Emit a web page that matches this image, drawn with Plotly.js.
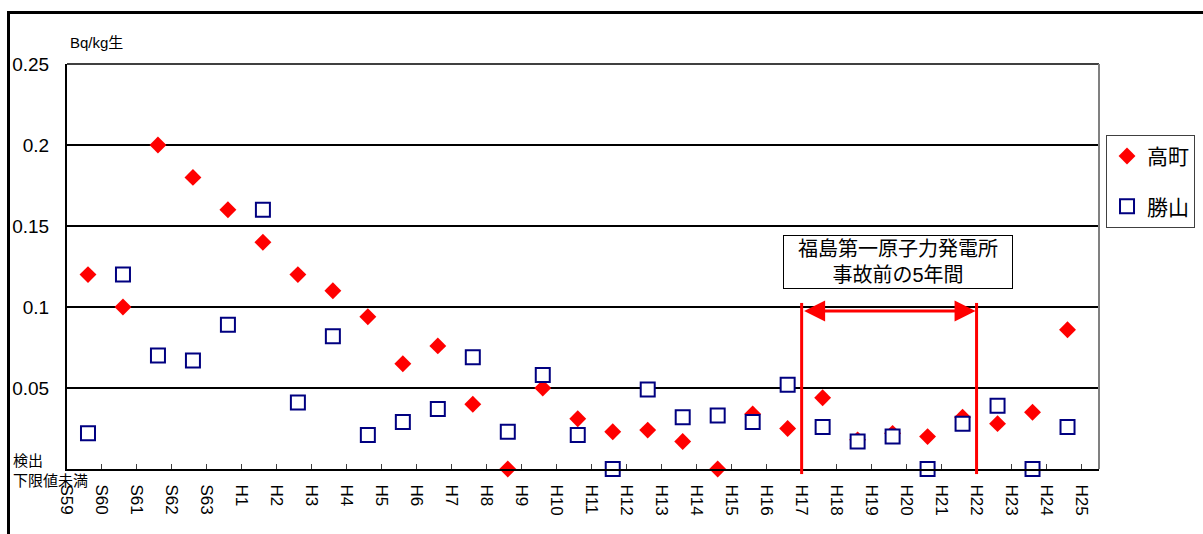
<!DOCTYPE html>
<html>
<head>
<meta charset="utf-8">
<script src="https://cdn.plot.ly/plotly-3.0.1.min.js"></script>
<style>
  html, body { margin: 0; padding: 0; background: #fff; }
  #wrap { position: relative; width: 1203px; height: 534px; overflow: hidden; }
  #chart { position: absolute; left: 0; top: 0; width: 1203px; height: 534px; }
  #frame { position: absolute; left: 7px; top: 11px; width: 1210px; height: 540px;
           border-top: 3px solid #000; border-left: 3px solid #000; pointer-events: none; }
</style>
</head>
<body>
<div id="wrap">
  <div id="chart"></div>
  <div id="frame"></div>
</div>
<script>
// Category (fiscal year) labels
const years = ['S59','S60','S61','S62','S63',
  'H1','H2','H3','H4','H5','H6','H7','H8','H9','H10',
  'H11','H12','H13','H14','H15','H16','H17','H18','H19','H20',
  'H21','H22','H23','H24','H25'];

// 高町 (Bq/kg生), 0 = below detection limit
const takamachi = [0.12, 0.10, 0.20, 0.18, 0.16, 0.14, 0.12, 0.11, 0.094, 0.065,
  0.076, 0.040, 0, 0.050, 0.031, 0.023, 0.024, 0.017, 0, 0.034,
  0.025, 0.044, 0.018, 0.022, 0.020, 0.032, 0.028, 0.035, 0.086, null];

// 勝山 (Bq/kg生), 0 = below detection limit
const katsuyama = [0.022, 0.12, 0.070, 0.067, 0.089, 0.16, 0.041, 0.082, 0.021, 0.029,
  0.037, 0.069, 0.023, 0.058, 0.021, 0, 0.049, 0.032, 0.033, 0.029,
  0.052, 0.026, 0.017, 0.020, 0, 0.028, 0.039, 0, 0.026, null];

const yTickVals = [0.05, 0.1, 0.15, 0.2, 0.25];
const yTickText = ['0.05', '0.1', '0.15', '0.2', '0.25'];

const periodStart = 'H17';
const periodEnd = 'H22';

const latin = 'Liberation Sans, Arial, sans-serif';
const cjk = 'Liberation Sans, Noto Sans CJK JP, sans-serif';

const traces = [
  {
    type: 'scatter', mode: 'markers', name: '高町', legendgroup: 'a',
    x: years, y: takamachi, xaxis: 'x', yaxis: 'y', cliponaxis: false,
    marker: { symbol: 'diamond', size: 13, color: '#ff0000', line: { width: 0 } },
    hoverinfo: 'x+y'
  },
  {
    type: 'scatter', mode: 'markers', name: '勝山', legendgroup: 'b',
    x: years, y: katsuyama, xaxis: 'x', yaxis: 'y', cliponaxis: false,
    marker: { symbol: 'square', size: 14, color: '#ffffff', line: { width: 2, color: '#000080' } },
    hoverinfo: 'x+y'
  }
];

const iStart = years.indexOf(periodStart);
const iEnd = years.indexOf(periodEnd);

const layout = {
  width: 1203, height: 534,
  margin: { l: 67, r: 104, t: 64, b: 65, autoexpand: false },
  paper_bgcolor: '#ffffff', plot_bgcolor: '#ffffff',
  showlegend: true,
  font: { family: latin, color: '#000' },
  xaxis: {
    type: 'category', categoryorder: 'array', categoryarray: years,
    range: [-0.6, 28.9],
    showticklabels: false, ticks: '', showgrid: false, zeroline: false, showline: false,
    fixedrange: true
  },
  xaxis2: {
    type: 'linear', overlaying: 'x', anchor: 'y', side: 'bottom',
    range: [0, 29.5],
    tickmode: 'array', tickvals: years.map((_, i) => i), ticktext: years,
    tickangle: 90, ticks: 'inside', ticklen: 5, tickwidth: 1, tickcolor: '#404040',
    tickfont: { family: latin, size: 17, color: '#000' },
    ticklabelstandoff: 10,
    showgrid: false, zeroline: false,
    showline: true, linecolor: '#000', linewidth: 2,
    fixedrange: true
  },
  yaxis: {
    range: [0, 0.25],
    tickmode: 'array', tickvals: yTickVals, ticktext: yTickText,
    tickfont: { family: latin, size: 19, color: '#000' },
    ticks: '', ticklabelstandoff: 12,
    showgrid: true, gridcolor: '#000', gridwidth: 1.5,
    zeroline: false, showline: true, linecolor: '#000', linewidth: 2,
    fixedrange: true
  },
  legend: {
    x: 1.0068, y: 0.825, xanchor: 'left', yanchor: 'top',
    bordercolor: '#404040', borderwidth: 1, bgcolor: '#fff',
    font: { family: cjk, size: 21, color: '#000' },
    traceorder: 'grouped', tracegroupgap: 20,
    itemwidth: 30
  },
  shapes: [
    { type: 'line', xref: 'paper', yref: 'paper', x0: 0, x1: 1, y0: 1, y1: 1,
      line: { color: '#404040', width: 2 } },
    { type: 'line', xref: 'paper', yref: 'paper', x0: 1, x1: 1, y0: 0, y1: 1,
      line: { color: '#808080', width: 2 } },
    { type: 'line', xref: 'x2', yref: 'paper', x0: iStart, x1: iStart, y0: -0.0125, y1: 0.41,
      line: { color: '#ff0000', width: 3 } },
    { type: 'line', xref: 'x2', yref: 'paper', x0: iEnd, x1: iEnd, y0: -0.0125, y1: 0.41,
      line: { color: '#ff0000', width: 3 } }
  ],
  annotations: [
    { xref: 'x2', yref: 'y', axref: 'x2', ayref: 'y',
      x: iEnd, y: 0.0975, ax: iStart, ay: 0.0975,
      text: '', showarrow: true, arrowside: 'end+start',
      arrowhead: 2, startarrowhead: 2, arrowsize: 1.4, startarrowsize: 1.4,
      arrowwidth: 3, arrowcolor: '#ff0000', standoff: 1, startstandoff: 1 },
    { xref: 'paper', yref: 'paper', x: 0.805, y: 0.511, xanchor: 'center', yanchor: 'middle',
      text: '福島第一原子力発電所<br>事故前の5年間', showarrow: false,
      font: { family: cjk, size: 20, color: '#000' },
      bgcolor: '#fff', bordercolor: '#000', borderwidth: 1, borderpad: 2,
      width: 224, align: 'center' },
    { xref: 'paper', yref: 'paper', x: 0.001, y: 1.054, xanchor: 'left', yanchor: 'middle',
      text: 'Bq/kg生', showarrow: false, font: { family: cjk, size: 15, color: '#000' } },
    { xref: 'paper', yref: 'paper', x: -0.054, y: -0.004, xanchor: 'left', yanchor: 'middle',
      text: '検出<br>下限値未満', showarrow: false, align: 'left',
      font: { family: cjk, size: 15, color: '#000' } }
  ]
};

Plotly.newPlot('chart', traces, layout, { displayModeBar: false, staticPlot: true });
</script>
</body>
</html>
